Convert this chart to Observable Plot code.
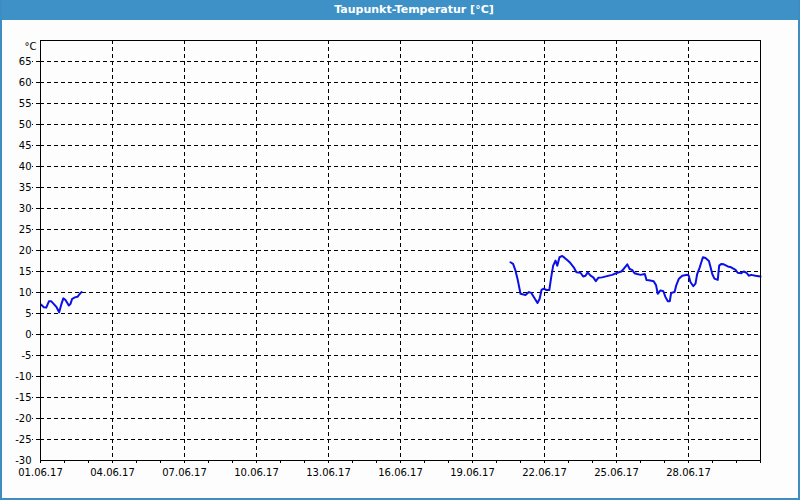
<!DOCTYPE html>
<html>
<head>
<meta charset="utf-8">
<script src="https://cdn.jsdelivr.net/npm/d3@7"></script>
<script src="https://cdn.jsdelivr.net/npm/@observablehq/plot@0.6"></script>
<style>
  html, body { margin: 0; padding: 0; background: #fcfdfc; }
  #wrap { position: relative; width: 800px; height: 500px; overflow: hidden; background: #fcfdfc; }
  #title { height: 20px; background: #3d91c6; color: #fff; font: bold 11px "DejaVu Sans", sans-serif; line-height: 20px; position: relative; }
  #title span { position: absolute; left: 414px; transform: translateX(-50%); white-space: nowrap; }
  #border { position: absolute; left: 0; top: 0; width: 800px; height: 500px; box-sizing: border-box; border-left: 2px solid #3d8dc2; border-right: 2px solid #3d8dc2; border-bottom: 2px solid #3d8dc2; pointer-events: none; }
  svg { display: block; }
</style>
</head>
<body>
<div id="wrap">
  <div id="title"><span>Taupunkt-Temperatur [°C]</span></div>
  <div id="chart"></div>
  <div id="border"></div>
</div>
<script>
// Segment 1: 01.06.–02.06.2017
const times1 = ["2017-06-01T00:45","2017-06-01T03:20","2017-06-01T05:45","2017-06-01T08:25","2017-06-01T10:50","2017-06-01T13:10","2017-06-01T16:05","2017-06-01T18:40","2017-06-01T21:00","2017-06-01T22:50","2017-06-02T01:00","2017-06-02T04:20","2017-06-02T06:00","2017-06-02T07:40","2017-06-02T11:00","2017-06-02T13:10","2017-06-02T15:20","2017-06-02T17:00"];
const values1 = [7.1,6.5,6.4,7.9,7.9,7.3,6.5,5.3,7.3,8.6,8.2,6.9,7.3,8.5,8.9,9.0,9.7,10.1];

// Segment 2: 20.06.–01.07.2017
const times2 = ["2017-06-20T13:55","2017-06-20T16:35","2017-06-20T19:00","2017-06-20T21:20","2017-06-21T00:00","2017-06-21T05:00","2017-06-21T08:25","2017-06-21T10:50","2017-06-21T13:55","2017-06-21T17:00","2017-06-21T19:10","2017-06-21T21:00","2017-06-21T23:15","2017-06-22T01:55","2017-06-22T04:50","2017-06-22T06:40","2017-06-22T08:40","2017-06-22T11:00","2017-06-22T12:45","2017-06-22T15:00","2017-06-22T17:45","2017-06-22T19:55","2017-06-22T23:15","2017-06-23T01:55","2017-06-23T05:15","2017-06-23T07:55","2017-06-23T12:00","2017-06-23T14:40","2017-06-23T17:00","2017-06-23T19:10","2017-06-23T22:05","2017-06-24T00:45","2017-06-24T03:20","2017-06-24T05:45","2017-06-24T09:35","2017-06-24T14:25","2017-06-24T19:40","2017-06-25T00:45","2017-06-25T04:50","2017-06-25T07:10","2017-06-25T10:50","2017-06-25T13:10","2017-06-25T15:35","2017-06-25T18:00","2017-06-25T20:40","2017-06-26T00:00","2017-06-26T04:20","2017-06-26T06:00","2017-06-26T08:25","2017-06-26T13:10","2017-06-26T15:35","2017-06-26T17:15","2017-06-26T19:55","2017-06-26T22:50","2017-06-27T01:00","2017-06-27T03:20","2017-06-27T05:15","2017-06-27T06:40","2017-06-27T10:05","2017-06-27T11:45","2017-06-27T14:25","2017-06-27T17:45","2017-06-27T22:50","2017-06-28T00:15","2017-06-28T01:55","2017-06-28T04:50","2017-06-28T07:00","2017-06-28T08:40","2017-06-28T11:15","2017-06-28T14:25","2017-06-28T17:00","2017-06-28T20:25","2017-06-28T22:05","2017-06-28T23:45","2017-06-29T01:55","2017-06-29T05:15","2017-06-29T06:40","2017-06-29T08:40","2017-06-29T11:15","2017-06-29T15:20","2017-06-29T18:40","2017-06-29T23:00","2017-06-30T01:10","2017-06-30T04:50","2017-06-30T07:10","2017-06-30T10:05","2017-06-30T12:15","2017-06-30T14:40","2017-06-30T19:00","2017-07-01T00:00"];
const values2 = [17.2,16.8,15.2,12.9,9.7,9.4,10.1,9.9,8.7,7.5,8.5,10.6,10.9,10.6,10.6,13.6,16.4,17.6,16.4,18.4,18.7,18.3,17.6,17.0,16.0,14.8,14.7,13.8,14.0,14.8,14.0,13.6,12.7,13.5,13.6,13.9,14.2,14.7,15.0,15.6,16.7,15.6,15.4,14.6,14.4,14.2,14.4,13.0,12.9,12.7,11.7,9.7,10.5,10.3,8.9,7.9,7.9,9.9,10.1,11.7,13.3,14.0,14.2,14.0,12.5,11.5,12.1,14.4,16.0,18.4,18.2,17.5,16.0,14.4,13.3,13.0,16.4,16.8,16.7,16.2,16.0,15.4,14.7,14.6,15.0,14.7,14.0,14.2,14.0,13.8];

// Axes
const xLabelDates = ["2017-06-01","2017-06-04","2017-06-07","2017-06-10","2017-06-13","2017-06-16","2017-06-19","2017-06-22","2017-06-25","2017-06-28"];
const xDomain = ["2017-06-01","2017-07-01"];
const yTicks = [-30,-25,-20,-15,-10,-5,0,5,10,15,20,25,30,35,40,45,50,55,60,65];
const yDomain = [-30, 70];
const yUnit = "°C";

const parse = s => new Date(s + (s.length === 10 ? "T00:00Z" : ":00Z"));
const data = [
  ...times1.map((t, i) => ({t: parse(t), v: values1[i], seg: 1})),
  ...times2.map((t, i) => ({t: parse(t), v: values2[i], seg: 2}))
];
const xDom = xDomain.map(parse);
const labelDates = xLabelDates.map(parse);
const dayTicks = d3.utcDay.range(xDom[0], d3.utcDay.offset(xDom[1], 1));
const gridX = labelDates.slice(1);
const gridY = yTicks.slice(1);
const fmt = d3.utcFormat("%d.%m.%y");

const chart = Plot.plot({
  width: 800,
  height: 480,
  marginTop: 20,
  marginBottom: 40,
  marginLeft: 40,
  marginRight: 40,
  style: {background: "#fcfdfc", fontFamily: "'DejaVu Sans', sans-serif", fontSize: "10px", color: "#000"},
  x: {type: "utc", domain: xDom, label: null},
  y: {domain: yDomain, label: null},
  marks: [
    Plot.ruleY(gridY, {y: d => d, stroke: "#000", strokeDasharray: "4,3", strokeWidth: 1}),
    Plot.ruleX(gridX, {x: d => d, stroke: "#000", strokeDasharray: "4,3", strokeWidth: 1}),
    Plot.axisY(gridY, {tickSize: 8, tickFormat: () => "", strokeDasharray: "4,3", stroke: "#000", label: null}),
    Plot.axisY(yTicks, {tickSize: 0, tickPadding: 9, tickFormat: d => d, fill: "#000", fontSize: 10, label: null}),
    Plot.text([yDomain[1]], {x: () => xDom[0], y: d => d, text: () => yUnit, textAnchor: "end", dx: -4, dy: 6, fill: "#000", fontSize: 10}),
    Plot.axisX(dayTicks, {tickSize: 3, tickFormat: () => "", stroke: "#000", label: null}),
    Plot.axisX(labelDates, {tickSize: 3, tickPadding: 5, tickFormat: fmt, fill: "#000", fontSize: 10, label: null}),
    Plot.line(data, {x: "t", y: "v", z: "seg", stroke: "#0a10e6", strokeWidth: 2, curve: "linear"}),
    Plot.frame({stroke: "#000", strokeWidth: 1})
  ]
});
document.getElementById("chart").appendChild(chart);
</script>
</body>
</html>
